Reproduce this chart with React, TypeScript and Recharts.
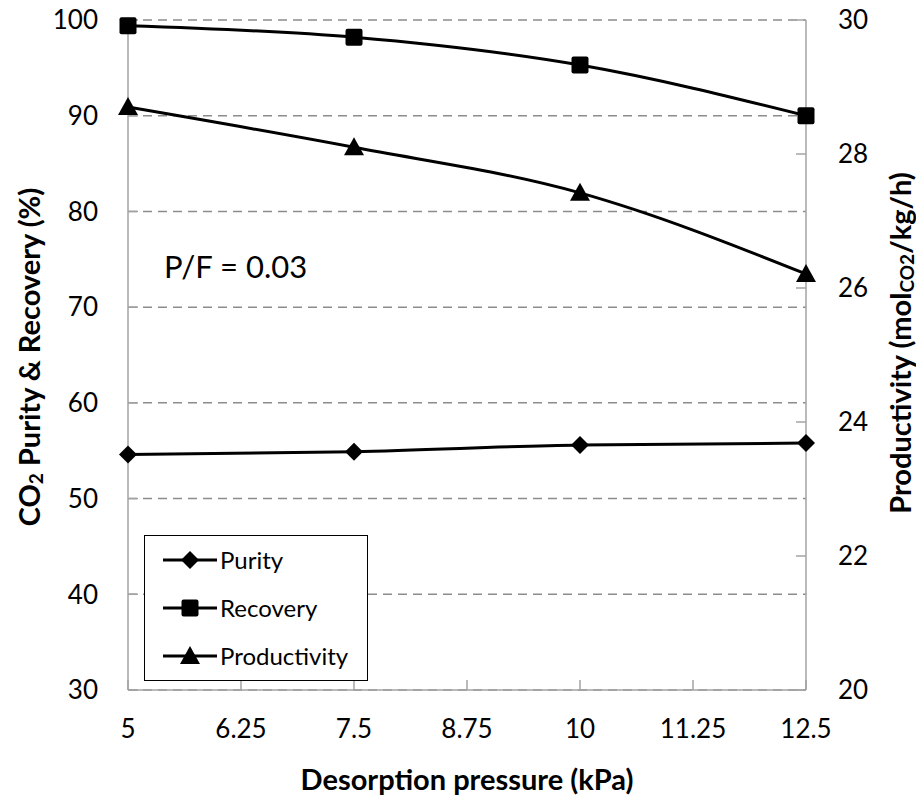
import { LineChart, Line, XAxis, YAxis, CartesianGrid, Legend } from "recharts";

const pressure = [5, 7.5, 10, 12.5];
const purity = [54.6, 54.9, 55.6, 55.8];
const recovery = [99.4, 98.2, 95.3, 90.0];
const productivity = [28.7, 28.1, 27.42, 26.21];

const xTicks = [5, 6.25, 7.5, 8.75, 10, 11.25, 12.5];
const leftTicks = [30, 40, 50, 60, 70, 80, 90, 100];
const rightTicks = [20, 22, 24, 26, 28, 30];
const seriesOrder = ["purity", "recovery", "productivity"];

const rows = pressure.map((p, i) => ({
  pressure: p,
  purity: purity[i],
  recovery: recovery[i],
  productivity: productivity[i],
}));

const FONT = "Lato, 'Open Sans', sans-serif";
const AXIS_GREY = "#a3a3a3";

const Diamond = ({ cx, cy }: any) => (
  <path d={`M${cx},${cy - 9}L${cx + 9},${cy}L${cx},${cy + 9}L${cx - 9},${cy}Z`} fill="#000" />
);
const Square = ({ cx, cy }: any) => (
  <rect x={cx - 8.5} y={cy - 8.5} width={17} height={17} rx={2} fill="#000" />
);
const Triangle = ({ cx, cy }: any) => (
  <path d={`M${cx},${cy - 10}L${cx + 10},${cy + 8}L${cx - 10},${cy + 8}Z`} fill="#000" />
);

const markers: Record<string, any> = {
  purity: Diamond,
  recovery: Square,
  productivity: Triangle,
};

const dotFor = (key: string) => (p: any) => {
  const M = markers[key];
  return <M key={`${key}-${p.index}`} cx={p.cx} cy={p.cy} />;
};

const titleProps = {
  textAnchor: "middle" as const,
  dominantBaseline: "central" as const,
  fontSize: 29,
  fontWeight: "bold",
  fontFamily: FONT,
  fill: "#000",
};

const LeftTitle = ({ viewBox }: any) => {
  const x = viewBox.x + 28;
  const y = viewBox.y + viewBox.height / 2 + 2;
  return (
    <text x={x} y={y} transform={`rotate(-90 ${x} ${y})`} {...titleProps}>
      CO<tspan dy={7} fontSize={19}>2</tspan>
      <tspan dy={-7}> Purity &amp; Recovery (%)</tspan>
    </text>
  );
};

const RightTitle = ({ viewBox }: any) => {
  const x = viewBox.x + 93;
  const y = viewBox.y + viewBox.height / 2 - 12;
  return (
    <text x={x} y={y} transform={`rotate(-90 ${x} ${y})`} {...titleProps}>
      Productivity (mol<tspan dy={7} fontSize={19}>CO2</tspan>
      <tspan dy={-7}>/kg/h)</tspan>
    </text>
  );
};

const BottomTitle = ({ viewBox }: any) => (
  <text x={viewBox.x + viewBox.width / 2} y={viewBox.y + 88} {...titleProps}>
    Desorption pressure (kPa)
  </text>
);

const LegendBox = ({ payload }: any) => {
  const items = [...(payload || [])].sort(
    (a: any, b: any) => seriesOrder.indexOf(a.dataKey) - seriesOrder.indexOf(b.dataKey)
  );
  return (
    <div
      style={{
        width: 224,
        height: 146,
        boxSizing: "border-box",
        border: "1.5px solid #000",
        background: "#fff",
        fontFamily: FONT,
        fontSize: 24,
        color: "#000",
      }}
    >
      {items.map((entry: any) => {
        const M = markers[entry.dataKey];
        return (
          <div key={entry.value} style={{ display: "flex", alignItems: "center", height: 48 }}>
            <svg width={56} height={24} style={{ marginLeft: 16 }}>
              <line x1={2} y1={12} x2={56} y2={12} stroke="#000" strokeWidth={3} />
              <M cx={29} cy={12} />
            </svg>
            <span style={{ marginLeft: 3, lineHeight: 1 }}>{entry.value}</span>
          </div>
        );
      })}
    </div>
  );
};

export default function App() {
  return (
    <div style={{ position: "relative", width: 916, height: 798, background: "#fff" }}>
      <style>{"body{margin:0;background:#fff}"}</style>
      <LineChart width={916} height={798} data={rows} margin={{ top: 20, right: 0, bottom: 0, left: 0 }}>
        <CartesianGrid
          yAxisId="left"
          vertical={false}
          stroke="#8c8c8c"
          strokeWidth={1.5}
          strokeDasharray="9 6"
        />
        <XAxis
          dataKey="pressure"
          type="number"
          domain={[5, 12.5]}
          ticks={xTicks}
          height={108}
          tickSize={-10}
          tickMargin={40}
          axisLine={{ stroke: AXIS_GREY, strokeWidth: 1.5 }}
          tickLine={{ stroke: AXIS_GREY, strokeWidth: 1.5 }}
          tick={{ fill: "#000", fontSize: 26, fontFamily: FONT }}
          label={BottomTitle}
        />
        <YAxis
          yAxisId="left"
          domain={[30, 100]}
          ticks={leftTicks}
          width={128}
          tickSize={-10}
          tickMargin={40}
          axisLine={{ stroke: AXIS_GREY, strokeWidth: 1.5 }}
          tickLine={{ stroke: AXIS_GREY, strokeWidth: 1.5 }}
          tick={{ fill: "#000", fontSize: 26, fontFamily: FONT }}
          label={LeftTitle}
        />
        <YAxis
          yAxisId="right"
          orientation="right"
          domain={[20, 30]}
          ticks={rightTicks}
          width={110}
          tickSize={-10}
          tickMargin={42}
          axisLine={{ stroke: AXIS_GREY, strokeWidth: 1.5 }}
          tickLine={{ stroke: AXIS_GREY, strokeWidth: 1.5 }}
          tick={{ fill: "#000", fontSize: 26, fontFamily: FONT }}
          label={RightTitle}
        />
        <Legend
          layout="vertical"
          align="center"
          verticalAlign="middle"
          wrapperStyle={{ left: 144, top: 535, width: 224, height: 146 }}
          content={LegendBox}
        />
        <Line
          yAxisId="left"
          name="Purity"
          dataKey="purity"
          type="monotone"
          stroke="#000"
          strokeWidth={3}
          dot={dotFor("purity")}
          isAnimationActive={false}
        />
        <Line
          yAxisId="left"
          name="Recovery"
          dataKey="recovery"
          type="monotone"
          stroke="#000"
          strokeWidth={3}
          dot={dotFor("recovery")}
          isAnimationActive={false}
        />
        <Line
          yAxisId="right"
          name="Productivity"
          dataKey="productivity"
          type="monotone"
          stroke="#000"
          strokeWidth={3}
          dot={dotFor("productivity")}
          isAnimationActive={false}
        />
      </LineChart>
      <div
        style={{
          position: "absolute",
          left: 164,
          top: 251,
          fontFamily: FONT,
          fontSize: 31,
          lineHeight: 1,
          color: "#000",
          whiteSpace: "nowrap",
        }}
      >
        P/F = 0.03
      </div>
    </div>
  );
}
